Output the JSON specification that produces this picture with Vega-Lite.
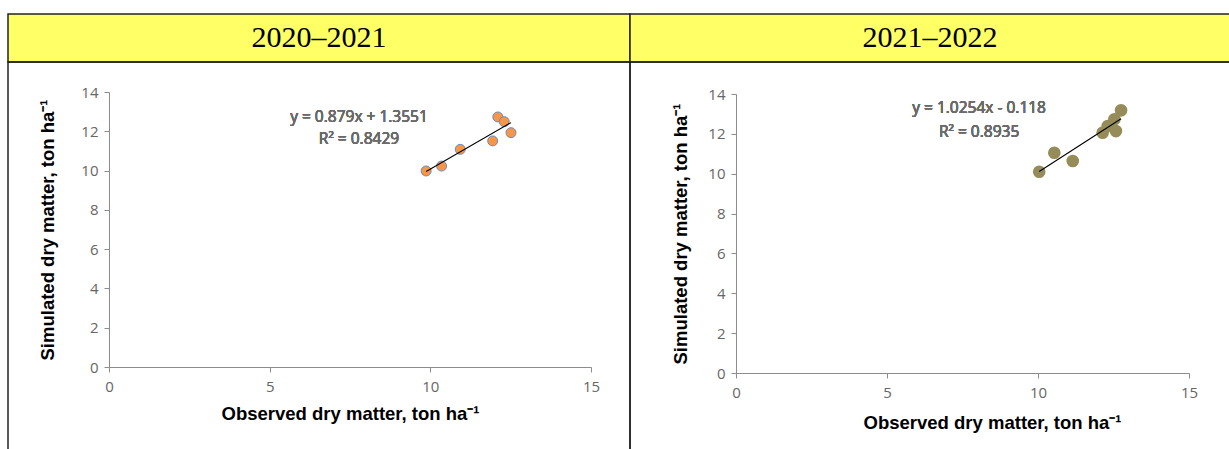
{
  "$schema": "https://vega.github.io/schema/vega-lite/v6.json",
  "padding": {"left": 7, "top": 13, "right": 0, "bottom": 0},
  "background": "white",
  "columns": 2,
  "spacing": 0,
  "bounds": "flush",
  "config": {
    "view": {"stroke": null},
    "concat": {"spacing": 0},
    "axis": {
      "grid": false,
      "domainColor": "#8c8c8c",
      "tickColor": "#8c8c8c",
      "tickSize": 5,
      "labelColor": "#666666",
      "labelFont": "Open Sans",
      "labelFontSize": 15,
      "labelFlush": false,
      "titleFont": "Liberation Sans",
      "titleFontSize": 18.5,
      "titleFontWeight": "bold",
      "titleColor": "#000000"
    }
  },
  "datasets": {
    "s2021": [
      {"obs": 9.87, "sim": 9.98},
      {"obs": 10.35, "sim": 10.23},
      {"obs": 10.93, "sim": 11.08},
      {"obs": 11.94, "sim": 11.51},
      {"obs": 12.10, "sim": 12.73},
      {"obs": 12.30, "sim": 12.49},
      {"obs": 12.51, "sim": 11.93}
    ],
    "s2122": [
      {"obs": 10.04, "sim": 10.10},
      {"obs": 10.54, "sim": 11.05},
      {"obs": 11.15, "sim": 10.64},
      {"obs": 12.14, "sim": 12.06},
      {"obs": 12.31, "sim": 12.39},
      {"obs": 12.53, "sim": 12.73},
      {"obs": 12.58, "sim": 12.14},
      {"obs": 12.75, "sim": 13.18}
    ]
  },
  "concat": [
    {
      "width": 622,
      "height": 48,
      "view": {"fill": "#FFFF66", "stroke": "#222222", "strokeWidth": 1.5},
      "data": {"values": [{"period": "2020–2021"}]},
      "mark": {"type": "text", "font": "Liberation Serif", "fontSize": 30, "color": "#000000"},
      "encoding": {"text": {"field": "period", "type": "nominal"}}
    },
    {
      "width": 600,
      "height": 48,
      "view": {"fill": "#FFFF66", "stroke": "#222222", "strokeWidth": 1.5},
      "data": {"values": [{"period": "2021–2022"}]},
      "mark": {"type": "text", "font": "Liberation Serif", "fontSize": 30, "color": "#000000"},
      "encoding": {"text": {"field": "period", "type": "nominal"}}
    },
    {
      "width": 622,
      "height": 388,
      "view": {"stroke": "#222222", "strokeWidth": 1.5},
      "data": {"name": "s2021"},
      "layer": [
        {
          "mark": {"type": "point", "filled": true, "size": 100, "fill": "#F79646", "stroke": "#5B86BF", "strokeWidth": 0.9, "opacity": 1},
          "encoding": {
            "x": {"field": "obs", "type": "quantitative",
              "scale": {"domain": [0, 15], "range": [101, 583], "nice": false, "zero": false},
              "axis": {"title": "Observed dry matter, ton ha⁻¹", "values": [0, 5, 10, 15], "offset": -83, "labelPadding": 7, "titlePadding": 10}},
            "y": {"field": "sim", "type": "quantitative",
              "scale": {"domain": [0, 14], "range": [305, 30], "nice": false, "zero": false},
              "axis": {"title": "Simulated dry matter, ton ha⁻¹", "values": [0, 2, 4, 6, 8, 10, 12, 14], "offset": -101, "labelPadding": 6, "titlePadding": 23}}
          }
        },
        {
          "transform": [{"regression": "sim", "on": "obs"}],
          "mark": {"type": "line", "color": "#000000", "strokeWidth": 1.1},
          "encoding": {
            "x": {"field": "obs", "type": "quantitative"},
            "y": {"field": "sim", "type": "quantitative"}
          }
        },
        {
          "mark": {"type": "text", "font": "Open Sans", "fontSize": 15.5, "fontWeight": 400, "color": "#6a6a6a", "align": "center"},
          "encoding": {"x": {"datum": 7.78}, "y": {"datum": 12.72}, "text": {"value": "y = 0.879x + 1.3551"}}
        },
        {
          "mark": {"type": "text", "font": "Open Sans", "fontSize": 15.5, "fontWeight": 400, "color": "#6a6a6a", "align": "center"},
          "encoding": {"x": {"datum": 7.78}, "y": {"datum": 11.6}, "text": {"value": "R² = 0.8429"}}
        }
      ]
    },
    {
      "width": 600,
      "height": 388,
      "view": {"stroke": "#222222", "strokeWidth": 1.5},
      "data": {"name": "s2122"},
      "layer": [
        {
          "mark": {"type": "point", "filled": true, "size": 160, "fill": "#958C5A", "opacity": 1},
          "encoding": {
            "x": {"field": "obs", "type": "quantitative",
              "scale": {"domain": [0, 15], "range": [106, 559], "nice": false, "zero": false},
              "axis": {"title": "Observed dry matter, ton ha⁻¹", "values": [0, 5, 10, 15], "offset": -77, "labelPadding": 7, "titlePadding": 13, "titleX": 362}},
            "y": {"field": "sim", "type": "quantitative",
              "scale": {"domain": [0, 14], "range": [311, 32], "nice": false, "zero": false},
              "axis": {"title": "Simulated dry matter, ton ha⁻¹", "values": [0, 2, 4, 6, 8, 10, 12, 14], "offset": -106, "labelPadding": 6, "titlePadding": 17}}
          }
        },
        {
          "transform": [{"regression": "sim", "on": "obs"}],
          "mark": {"type": "line", "color": "#000000", "strokeWidth": 1.1},
          "encoding": {
            "x": {"field": "obs", "type": "quantitative"},
            "y": {"field": "sim", "type": "quantitative"}
          }
        },
        {
          "mark": {"type": "text", "font": "Open Sans", "fontSize": 15.5, "fontWeight": 400, "color": "#6a6a6a", "align": "center"},
          "encoding": {"x": {"datum": 8.05}, "y": {"datum": 13.3}, "text": {"value": "y = 1.0254x - 0.118"}}
        },
        {
          "mark": {"type": "text", "font": "Open Sans", "fontSize": 15.5, "fontWeight": 400, "color": "#6a6a6a", "align": "center"},
          "encoding": {"x": {"datum": 8.05}, "y": {"datum": 12.1}, "text": {"value": "R² = 0.8935"}}
        }
      ]
    }
  ]
}
